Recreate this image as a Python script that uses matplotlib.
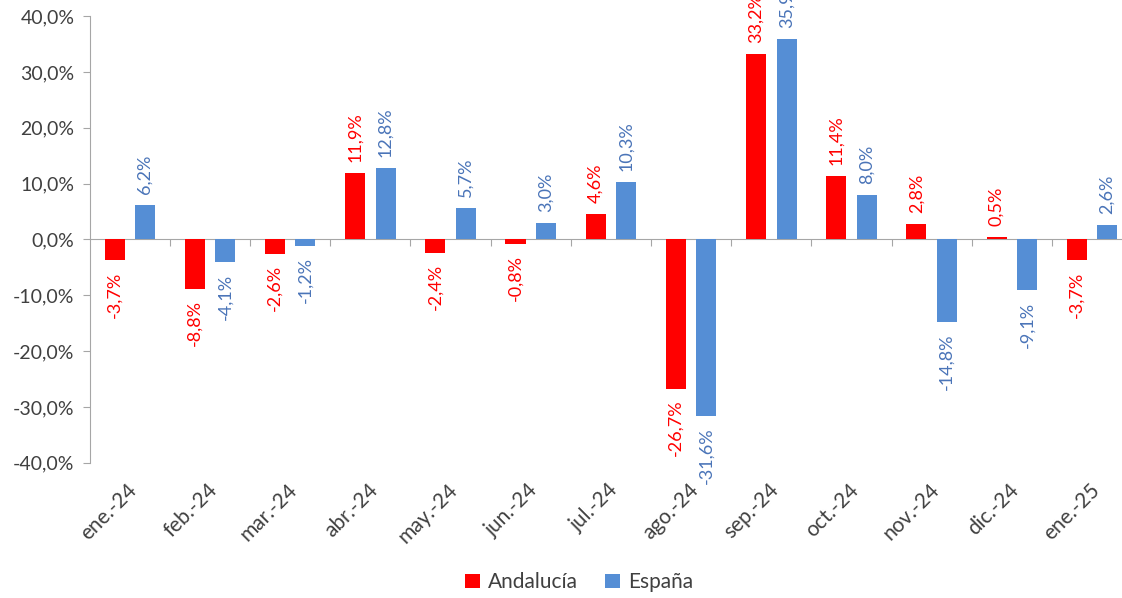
import matplotlib
matplotlib.use("Agg")
import matplotlib.pyplot as plt
import numpy as np

months = ["ene.-24", "feb.-24", "mar.-24", "abr.-24", "may.-24", "jun.-24",
          "jul.-24", "ago.-24", "sep.-24", "oct.-24", "nov.-24", "dic.-24", "ene.-25"]
andalucia = [-3.7, -8.8, -2.6, 11.9, -2.4, -0.8, 4.6, -26.7, 33.2, 11.4, 2.8, 0.5, -3.7]
espana = [6.2, -4.1, -1.2, 12.8, 5.7, 3.0, 10.3, -31.6, 35.9, 8.0, -14.8, -9.1, 2.6]
y_ticks = [-40, -30, -20, -10, 0, 10, 20, 30, 40]

RED = "#FF0000"
BLUE = "#558ED5"
BLUE_TXT = "#4A74B8"
AXIS = "#A6A6A6"
TXT = "#404040"

plt.rcParams["font.family"] = ["Lato", "DejaVu Sans"]


def pct(v):
    return f"{v:.1f}%".replace(".", ",")


fig = plt.figure(figsize=(11.22, 5.98), dpi=100)
ax = fig.add_axes([0.080, 0.226, 0.929, 0.747])

x = np.arange(len(months))
w = 0.25
off = 0.19

bars_a = ax.bar(x - off, andalucia, w, color=RED, label="Andalucía", zorder=3)
bars_e = ax.bar(x + off, espana, w, color=BLUE, label="España", zorder=3)

# vertical data labels above/below bars
for bars, vals, col in [(bars_a, andalucia, RED), (bars_e, espana, BLUE_TXT)]:
    for b, v in zip(bars, vals):
        cx = b.get_x() + b.get_width() / 2
        ax.annotate(pct(v), (cx, v), textcoords="offset points",
                    xytext=(0, 8 if v >= 0 else -8), rotation=90,
                    ha="center", va="bottom" if v >= 0 else "top",
                    fontsize=13, color=col, annotation_clip=False)

ax.set_xlim(-0.5, len(months) - 0.5)
ax.set_ylim(-40, 40)
ax.set_yticks(y_ticks)
ax.set_yticklabels([pct(v) for v in y_ticks], fontsize=14, color=TXT)
ax.tick_params(axis="y", length=5, color=AXIS, pad=6)

# category axis at zero with ticks at boundaries
ax.spines["bottom"].set_position(("data", 0))
ax.spines["bottom"].set_color(AXIS)
ax.spines["left"].set_color(AXIS)
ax.spines["top"].set_visible(False)
ax.spines["right"].set_visible(False)
ax.set_xticks(np.arange(len(months) - 1) + 0.5)
ax.set_xticklabels([])
ax.tick_params(axis="x", length=5, color=AXIS, direction="out")

# month labels below the plot area
trans = ax.get_xaxis_transform()
for xi, m in zip(x, months):
    ax.annotate(m, (xi, 0), xycoords=trans, textcoords="offset points",
                xytext=(-2, -12), rotation=45, rotation_mode="anchor",
                ha="right", va="top", fontsize=15, color=TXT,
                annotation_clip=False)

fig.legend(loc="center", bbox_to_anchor=(0.516, 0.026), ncol=2, frameon=False,
           fontsize=15, handlelength=0.7, handleheight=0.7, handletextpad=0.4,
           columnspacing=1.3, labelcolor=TXT)

fig.savefig("out.png", dpi=100)
